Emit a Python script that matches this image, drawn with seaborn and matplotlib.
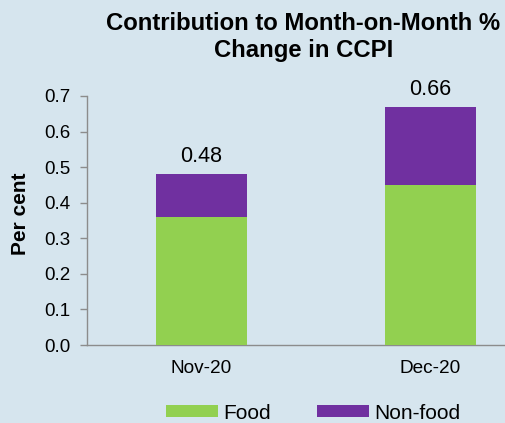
import numpy as np
import pandas as pd
import seaborn as sns
import matplotlib.pyplot as plt
from matplotlib.patches import Patch

# data
months = ["Nov-20", "Dec-20"]
food = [0.36, 0.45]
non_food = [0.12, 0.22]
total_labels = ["0.48", "0.66"]

green = "#92D050"
purple = "#7030A0"
bg = "#D6E5EE"

df = pd.DataFrame({"Month": months, "Food": food, "Non-food": non_food})
df["Total"] = df["Food"] + df["Non-food"]

sns.set_style("white")
plt.rcParams["font.family"] = ["Liberation Sans", "DejaVu Sans"]
plt.rcParams["text.color"] = "black"
plt.rcParams["xtick.color"] = "black"
plt.rcParams["ytick.color"] = "black"

fig = plt.figure(figsize=(5.05, 4.23), dpi=100, facecolor=bg)
ax = fig.add_axes([87 / 505, 1 - 345 / 423, 458 / 505, 249 / 423])
ax.set_facecolor(bg)

# stacked bars: total (non-food on top) then food over it
sns.barplot(data=df, x="Month", y="Total", color=purple, width=0.4,
            saturation=1, ax=ax, zorder=2, edgecolor="none", linewidth=0)
sns.barplot(data=df, x="Month", y="Food", color=green, width=0.4,
            saturation=1, ax=ax, zorder=3, edgecolor="none", linewidth=0)

for i, lab in enumerate(total_labels):
    ax.text(i, df["Total"][i] + 0.02, lab, ha="center", va="bottom",
            fontsize=15.5, color="black", clip_on=False)

ax.set_xlim(-0.5, 1.5)
ax.set_ylim(0, 0.7)
ax.set_yticks(np.arange(0, 0.71, 0.1))
ax.set_yticklabels([f"{v:.1f}" for v in np.arange(0, 0.71, 0.1)])
ax.set_xlabel("")
ax.set_ylabel("")

for s in ["top", "right"]:
    ax.spines[s].set_visible(False)
for s in ["left", "bottom"]:
    ax.spines[s].set_color("#8C8C8C")
    ax.spines[s].set_linewidth(1)

ax.tick_params(axis="y", which="major", direction="out", length=5, width=1,
               color="#8C8C8C", labelcolor="black", labelsize=13.5, pad=7,
               left=True)
ax.tick_params(axis="x", length=0, labelsize=13.7, labelcolor="black", pad=11)

fig.text(303.5 / 505, 1 - 12 / 423,
         "Contribution to Month-on-Month %\nChange in CCPI",
         ha="center", va="top", fontsize=17.2, fontweight="bold",
         color="black", linespacing=1.25)
fig.text(20.5 / 505, 1 - 214 / 423, "Per cent", rotation=90,
         ha="center", va="center", fontsize=15, fontweight="bold",
         color="black")

handles = [Patch(facecolor=green, edgecolor="none", label="Food"),
           Patch(facecolor=purple, edgecolor="none", label="Non-food")]
fig.legend(handles=handles, loc="center left",
           bbox_to_anchor=(166 / 505, 1 - 413 / 423), ncol=2, frameon=False,
           fontsize=15, handlelength=2.5, handleheight=0.5,
           handletextpad=0.25, columnspacing=2.2, borderpad=0,
           borderaxespad=0, labelcolor="black")

fig.savefig("out.png", dpi=100, facecolor=bg)
